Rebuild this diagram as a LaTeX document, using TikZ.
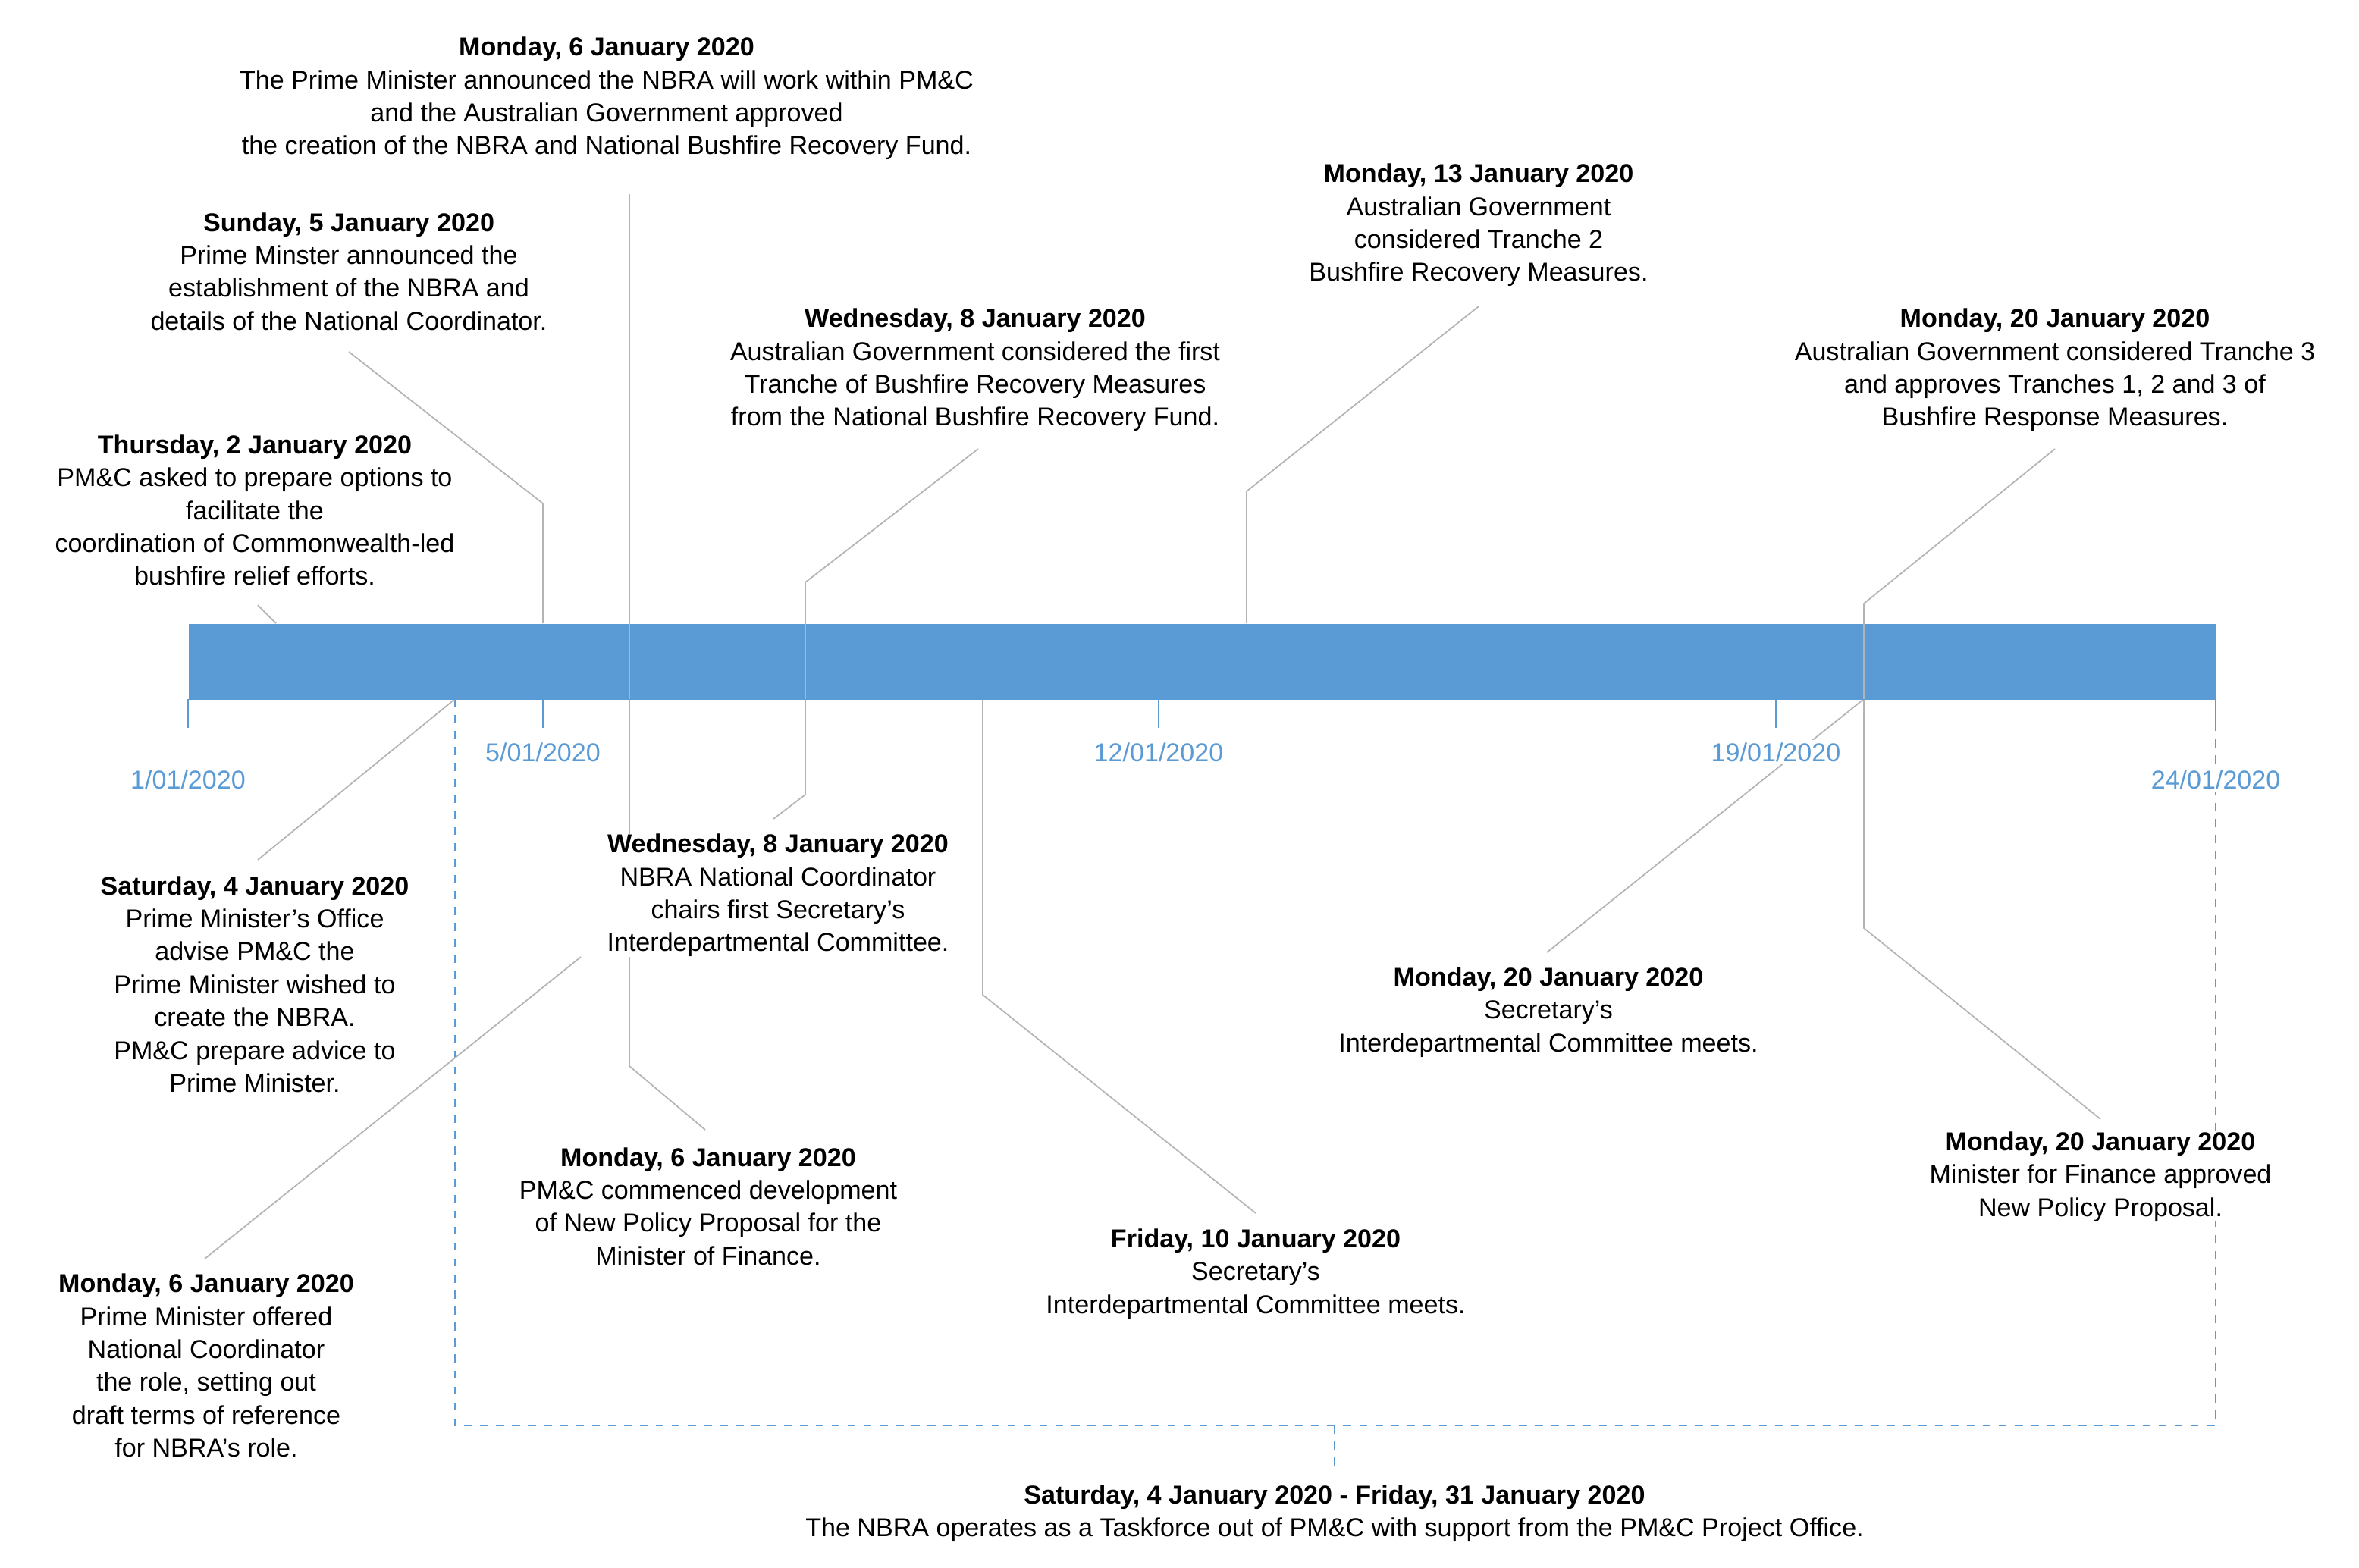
\documentclass[tikz,border=0pt]{standalone}
\usepackage{fontspec}
\setmainfont{Liberation Sans}
\definecolor{barblue}{HTML}{5B9BD5}
\definecolor{lgray}{HTML}{B4B4B4}
\begin{document}
\begin{tikzpicture}[x=0.02cm,y=-0.02cm,
  ev/.style={align=center,inner sep=0pt,font=\fontsize{9.7}{12.35}\selectfont},
  dt/.style={inner sep=1pt,fill=white,text=barblue,font=\fontsize{9.7}{12}\selectfont},
  conn/.style={draw=lgray,line width=0.5pt},
  tk/.style={draw=barblue,line width=0.6pt},
  brk/.style={draw=barblue,dashed,line width=0.6pt}]
\useasboundingbox (0,0) rectangle (1555.5,1033.5);
\clip (0,0) rectangle (1555.5,1033.5);
% bracket
\draw[brk] (300,461) -- (300,940) -- (1461,940) -- (1461,480);
\draw[brk] (880,940) -- (880,970);
% connectors
\coordinate (c2) at (182,411); \coordinate (c2t) at (170,399);
\draw[conn] (c2t) -- (c2);
\coordinate (c5t) at (230,232); \coordinate (c5) at (358,411);
\draw[conn] (c5t) -- (358,332) -- (c5);
\coordinate (c6t) at (415,128); \coordinate (c6) at (415,411);
\draw[conn] (c6t) -- (c6);
\coordinate (c6b) at (415,461); \coordinate (c6m) at (465,745);
\draw[conn] (c6b) -- (415,703) -- (c6m);
\coordinate (c8t) at (645,296); \coordinate (c8) at (531,411);
\draw[conn] (c8t) -- (531,384) -- (c8);
\coordinate (c8b) at (531,461); \coordinate (c8l) at (510,540);
\draw[conn] (c8b) -- (531,524) -- (c8l);
\coordinate (c13t) at (975,202); \coordinate (c13) at (822,411);
\draw[conn] (c13t) -- (822,324) -- (c13);
\coordinate (c20t) at (1355,296); \coordinate (c20) at (1229,411);
\draw[conn] (c20t) -- (1229,398) -- (c20);
\coordinate (c20b) at (1229,461); \coordinate (c20f) at (1385,738);
\draw[conn] (c20b) -- (1229,612) -- (c20f);
\coordinate (c20s) at (1020,628);
\draw[conn] (c20b) -- (c20s);
\coordinate (c4b) at (300,461); \coordinate (c4) at (170,567);
\draw[conn] (c4b) -- (c4);
\coordinate (c6ls) at (383,631); \coordinate (c6l) at (135,830);
\draw[conn] (c6ls) -- (c6l);
\coordinate (c10b) at (648,461); \coordinate (c10) at (828,800);
\draw[conn] (c10b) -- (648,656) -- (c10);
% bar
\node[fill=barblue,inner sep=0pt,minimum width=1337*0.02cm,minimum height=50*0.02cm,anchor=north west] (bar) at (124,411) {};
\draw[conn] (c6) -- (415,461);
\draw[conn] (c20) -- (c20b);
\draw[conn] (c8) -- (c8b);
% ticks
\foreach \x in {124,358,764,1171,1461} \draw[tk] (\x,461) -- (\x,480);
\node[dt] (d1) at (124,514) {1/01/2020};
\node[dt] (d5) at (358,496) {5/01/2020};
\node[dt] (d12) at (764,496) {12/01/2020};
\node[dt] (d19) at (1171,496) {19/01/2020};
\node[dt] (d24) at (1461,514) {24/01/2020};
% events
\node[ev] (e6a) at (400,65) {\textbf{Monday, 6 January 2020}\\The Prime Minister announced the NBRA will work within PM\&C\\and the Australian Government approved\\the creation of the NBRA and National Bushfire Recovery Fund.};
\node[ev] (e5) at (230,179) {\textbf{Sunday, 5 January 2020}\\Prime Minster announced the\\establishment of the NBRA and\\details of the National Coordinator.};
\node[ev] (e2) at (168,336.5) {\textbf{Thursday, 2 January 2020}\\PM\&C asked to prepare options to\\facilitate the\\coordination of Commonwealth-led\\bushfire relief efforts.};
\node[ev] (e8a) at (643,244) {\textbf{Wednesday, 8 January 2020}\\Australian Government considered the first\\Tranche of Bushfire Recovery Measures\\from the National Bushfire Recovery Fund.};
\node[ev] (e13) at (975,148.5) {\textbf{Monday, 13 January 2020}\\Australian Government\\considered Tranche 2\\Bushfire Recovery Measures.};
\node[ev] (e20a) at (1355,244) {\textbf{Monday, 20 January 2020}\\Australian Government considered Tranche 3\\and approves Tranches 1, 2 and 3 of\\Bushfire Response Measures.};
\node[ev] (e4) at (168,649) {\textbf{Saturday, 4 January 2020}\\Prime Minister’s Office\\advise PM\&C the\\Prime Minister wished to\\create the NBRA.\\PM\&C prepare advice to\\Prime Minister.};
\node[ev,fill=white] (e8b) at (513,590.5) {\textbf{Wednesday, 8 January 2020}\\NBRA National Coordinator\\chairs first Secretary’s\\Interdepartmental Committee.};
\node[ev] (e6b) at (467,795.5) {\textbf{Monday, 6 January 2020}\\PM\&C commenced development\\of New Policy Proposal for the\\Minister of Finance.};
\node[ev] (e10) at (828,840) {\textbf{Friday, 10 January 2020}\\Secretary’s\\Interdepartmental Committee meets.};
\node[ev] (e20b) at (1021,667.5) {\textbf{Monday, 20 January 2020}\\Secretary’s\\Interdepartmental Committee meets.};
\node[ev,fill=white] (e20c) at (1385,776) {\textbf{Monday, 20 January 2020}\\Minister for Finance approved\\New Policy Proposal.};
\node[ev] (e6c) at (136,900.5) {\textbf{Monday, 6 January 2020}\\Prime Minister offered\\National Coordinator\\the role, setting out\\draft terms of reference\\for NBRA's role.};
\node[ev] (eb) at (880,998) {\textbf{Saturday, 4 January 2020 - Friday, 31 January 2020}\\The NBRA operates as a Taskforce out of PM\&C with support from the PM\&C Project Office.};
\end{tikzpicture}
\end{document}
